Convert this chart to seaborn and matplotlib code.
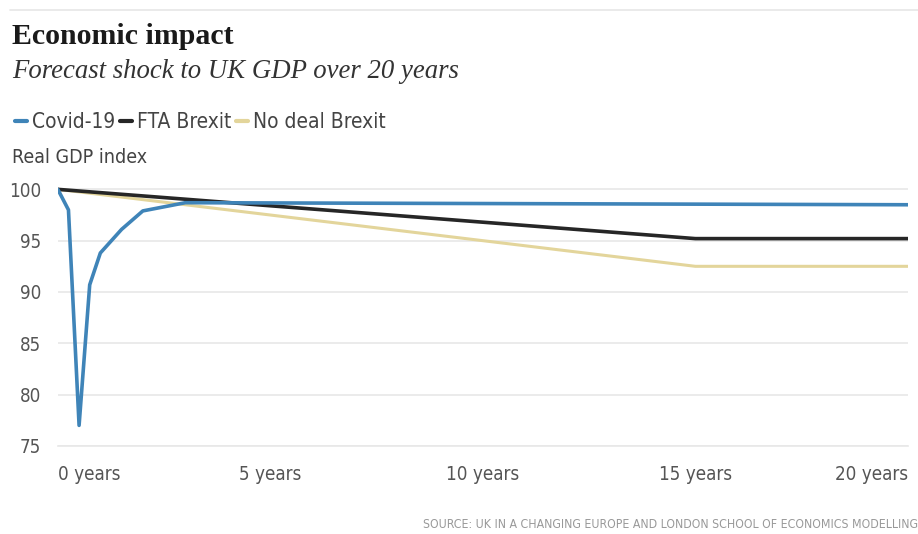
import pandas as pd
import matplotlib.pyplot as plt
import matplotlib.lines as mlines
import seaborn as sns

# data
covid_years = [0, 0.25, 0.5, 0.75, 1, 1.5, 2, 3, 20]
covid_gdp = [100, 98, 77, 90.7, 93.8, 96.1, 97.9, 98.7, 98.5]
fta_years = [0, 15, 20]
fta_gdp = [100, 95.2, 95.2]
nodeal_years = [0, 15, 20]
nodeal_gdp = [100, 92.5, 92.5]

series_names = ["Covid-19", "FTA Brexit", "No deal Brexit"]
series_colors = ["#3f84b8", "#262626", "#e3d59b"]
x_ticks = [0, 5, 10, 15, 20]
x_labels = ["0 years", "5 years", "10 years", "15 years", "20 years"]
y_ticks = [75, 80, 85, 90, 95, 100]

df = pd.concat([
    pd.DataFrame({"year": covid_years, "gdp": covid_gdp, "series": series_names[0]}),
    pd.DataFrame({"year": fta_years, "gdp": fta_gdp, "series": series_names[1]}),
    pd.DataFrame({"year": nodeal_years, "gdp": nodeal_gdp, "series": series_names[2]}),
])

sns.set_style("white")
serif = ["Liberation Serif", "DejaVu Serif"]
plt.rcParams["font.family"] = ["DejaVu Sans"]
plt.rcParams["font.stretch"] = "condensed"

fig = plt.figure(figsize=(9.18, 5.34), dpi=100)
ax = fig.add_axes([0.063, 0.165, 0.926, 0.49])

# draw the lines in reverse order so Covid sits on top
for name, col in list(zip(series_names, series_colors))[::-1]:
    sns.lineplot(data=df[df["series"] == name], x="year", y="gdp", color=col,
                 linewidth=2.6 if name != "No deal Brexit" else 2.2, ax=ax,
                 estimator=None, sort=False, legend=False)

ax.set_xlim(0, 20)
ax.set_ylim(75, 100.5)
ax.set_xticks(x_ticks)
ax.set_xticklabels(x_labels)
labels = ax.get_xticklabels()
labels[0].set_ha("left")
labels[-1].set_ha("right")
ax.set_yticks(y_ticks)
ax.grid(axis="y", color="#e8e8e8", linewidth=1.2)
ax.set_axisbelow(True)
for s in ["top", "right", "left"]:
    ax.spines[s].set_visible(False)
ax.spines["bottom"].set_color("#e8e8e8")
ax.spines["bottom"].set_linewidth(1.2)
ax.tick_params(axis="x", length=6, width=1.2, color="#e8e8e8", pad=8,
               labelsize=13.5, labelcolor="#555555")
ax.tick_params(axis="y", length=0, pad=12, labelsize=13.5, labelcolor="#555555")
for lab in labels:
    lab.set_ha(lab.get_ha())
ax.set_xlabel("")
ax.set_ylabel("")

# header
fig.add_artist(mlines.Line2D([0.011, 1.0], [0.981, 0.981], color="#e6e6e6", linewidth=1.2))
fig.text(0.013, 0.917, "Economic impact", fontsize=21.5, fontweight="bold",
         family=serif, stretch="normal", color="#1a1a1a", va="baseline")
fig.text(0.013, 0.853, "Forecast shock to UK GDP over 20 years", fontsize=19.3,
         style="italic", family=serif, stretch="normal", color="#333333", va="baseline")

handles = [mlines.Line2D([], [], color=c, linewidth=3) for c in series_colors]
fig.legend(handles, series_names, loc="center left", bbox_to_anchor=(-0.004, 0.771),
           ncol=3, frameon=False, fontsize=15, handlelength=0.55, handletextpad=0.25,
           columnspacing=0.25, labelcolor="#444444")

fig.text(0.013, 0.695, "Real GDP index", fontsize=14, color="#444444", va="baseline")
fig.text(1.0, 0.012, "SOURCE: UK IN A CHANGING EUROPE AND LONDON SCHOOL OF ECONOMICS MODELLING",
         fontsize=8.8, color="#999999", ha="right", va="baseline")

fig.savefig("out.png", dpi=100)
